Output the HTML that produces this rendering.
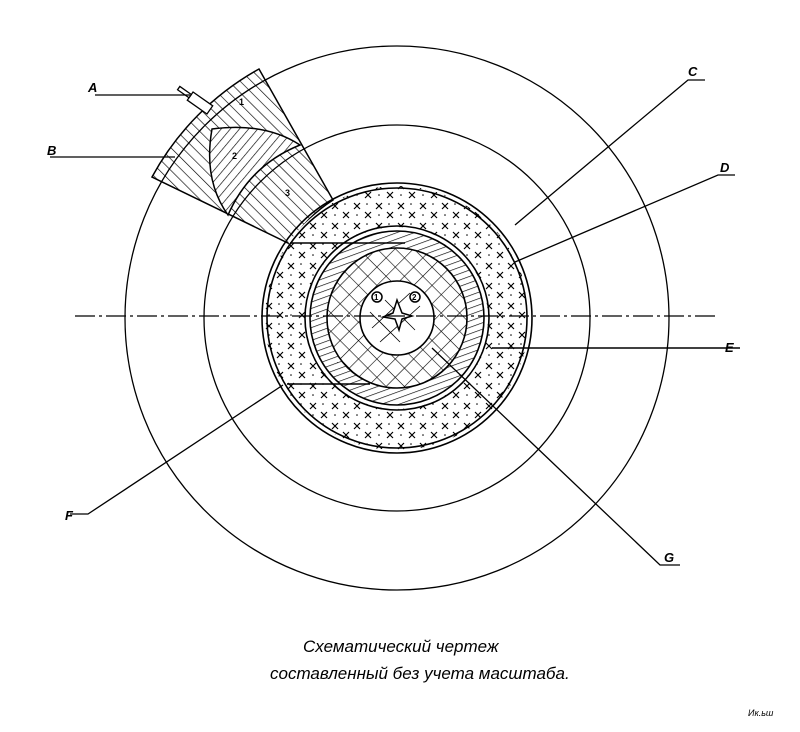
<!DOCTYPE html>
<html><head><meta charset="utf-8"><style>
html,body{margin:0;padding:0;background:#fff;}
svg{display:block}
</style></head><body>
<svg width="800" height="732" viewBox="0 0 800 732" xmlns="http://www.w3.org/2000/svg">
<defs>
<pattern id="h1" width="8" height="8" patternUnits="userSpaceOnUse" patternTransform="rotate(-45)">
<line x1="0" y1="0" x2="0" y2="8" stroke="#000" stroke-width="1.3"/></pattern>
<pattern id="h2" width="7" height="7" patternUnits="userSpaceOnUse" patternTransform="rotate(40)">
<line x1="0" y1="0" x2="0" y2="7" stroke="#000" stroke-width="1.3"/></pattern>
<pattern id="h3" width="6" height="6" patternUnits="userSpaceOnUse" patternTransform="rotate(-20)">
<line x1="0" y1="0" x2="6" y2="0" stroke="#000" stroke-width="1.3"/></pattern>
<pattern id="xh" width="13" height="13" patternUnits="userSpaceOnUse" patternTransform="rotate(45)">
<line x1="0" y1="0" x2="13" y2="0" stroke="#000" stroke-width="1.2"/>
<line x1="0" y1="0" x2="0" y2="13" stroke="#000" stroke-width="1.2"/></pattern>
<pattern id="cr" width="22" height="20" patternUnits="userSpaceOnUse">
<path d="M2 3l6 6M8 3l-6 6M13 12l6 6M19 12l-6 6" stroke="#000" stroke-width="1.2"/>
<circle cx="15" cy="4" r="0.8"/><circle cx="5" cy="15" r="0.8"/></pattern>
</defs>
<circle cx="397" cy="318" r="272" fill="none" stroke="#000" stroke-width="1.3"/>
<path d="M259,69 A272 272 0 0 0 152,177 L290,244 A134 134 0 0 1 333,200 Z" fill="url(#h1)" stroke="#000" stroke-width="1.5"/>
<path d="M212,129 Q203,180 228,215 Q250,165 300,145 Q265,122 212,129 Z" fill="#fff" stroke="none"/>
<path d="M212,129 Q203,180 228,215 Q250,165 300,145 Q265,122 212,129 Z" fill="url(#h2)" stroke="#000" stroke-width="1.5"/>
<circle cx="397" cy="318" r="193" fill="none" stroke="#000" stroke-width="1.3"/>
<circle cx="397" cy="318" r="132" fill="#fff" stroke="none"/>
<circle cx="397" cy="318" r="132" fill="url(#cr)" stroke="none"/>
<circle cx="397" cy="318" r="91" fill="#fff" stroke="none"/>
<circle cx="397" cy="318" r="87" fill="url(#h3)"/>
<circle cx="397" cy="318" r="70" fill="#fff"/>
<circle cx="397" cy="318" r="70" fill="url(#xh)"/>
<circle cx="397" cy="318" r="37" fill="#fff"/>
<g fill="none" stroke="#000" stroke-width="1.6">
<circle cx="397" cy="318" r="135"/>
<circle cx="397" cy="318" r="130"/>
<circle cx="397" cy="318" r="92"/>
<circle cx="397" cy="318" r="87"/>
<circle cx="397" cy="318" r="70"/>
<circle cx="397" cy="318" r="37"/>
</g>
<path d="M372,328 l38,-35 M380,342 l40,-36 M370,312 l30,30 M385,300 l30,30" stroke="#000" stroke-width="0.8"/>
<g stroke="#000" stroke-width="1.5">
<line x1="290" y1="243" x2="405" y2="243"/>
<line x1="287" y1="384" x2="370" y2="384"/>
<line x1="492" y1="348" x2="740" y2="348"/>
</g>
<g stroke="#000" stroke-width="1.5" fill="#fff">
<circle cx="377" cy="297" r="5"/><circle cx="415" cy="297" r="5"/>
<path d="M397,300 L402,313 L412,316 L402,319 L399,330 L395,319 L383,317 L393,313 Z"/>
</g>
<g font-family="Liberation Sans" font-size="8" font-weight="bold"><text x="374" y="300">1</text><text x="412" y="300">2</text></g>
<line x1="75" y1="316" x2="715" y2="316" stroke="#000" stroke-width="1.2" stroke-dasharray="20,4,3,4"/>
<g transform="translate(200,103) rotate(-55)" fill="#fff" stroke="#000" stroke-width="1.3">
<rect x="-5" y="-12" width="10" height="24"/><rect x="-2" y="-26" width="4" height="14"/></g>
<g stroke="#000" stroke-width="1.3" fill="none">
<path d="M95,95 L190,95"/>
<path d="M50,157 L175,157"/>
<path d="M515,225 L688,80 L705,80"/>
<path d="M515,262 L718,175 L735,175"/>
<path d="M283,385 L88,514 L70,514"/>
<path d="M432,348 L660,565 L680,565"/>
</g>
<g font-family="Liberation Sans" font-style="italic" font-weight="bold" font-size="13">
<text x="88" y="92">A</text><text x="47" y="155">B</text>
<text x="688" y="76">C</text><text x="720" y="172">D</text>
<text x="725" y="352">E</text><text x="65" y="520">F</text><text x="664" y="562">G</text>
</g>
<g font-family="Liberation Sans" font-size="9" font-weight="bold">
<text x="239" y="105">1</text><text x="232" y="159">2</text><text x="285" y="196">3</text>
</g>
<g font-family="Liberation Sans" font-style="italic" font-size="17">
<text x="303" y="652">Схематический  чертеж</text>
<text x="270" y="679">составленный  без учета  масштаба.</text>
<text x="748" y="716" font-size="9">Ик.ьш</text>
</g>
</svg>
</body></html>
